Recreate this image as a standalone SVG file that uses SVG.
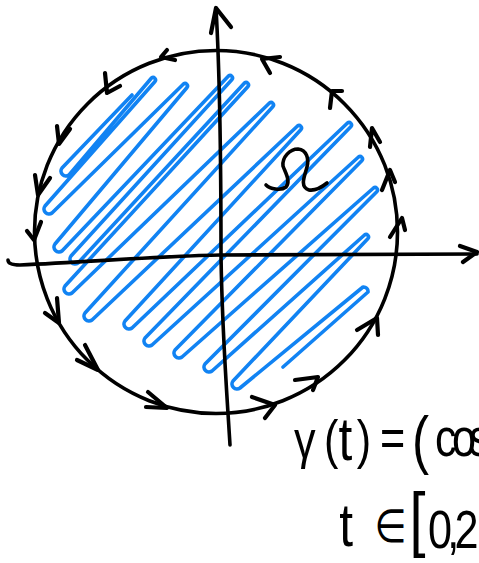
<svg xmlns="http://www.w3.org/2000/svg" width="479" height="563" viewBox="0 0 479 563">
<style>
.ink{fill:none;stroke:#000;stroke-width:3.6;stroke-linecap:round;stroke-linejoin:round}
.chev{fill:none;stroke:#000;stroke-width:4.2;stroke-linecap:round;stroke-linejoin:round}
.blue{fill:none;stroke:#1183f3;stroke-width:3.6;stroke-linecap:round;stroke-linejoin:round}
.hand{font-family:"Liberation Sans","DejaVu Sans",sans-serif;font-size:54px;fill:#000}
</style>
<rect width="479" height="563" fill="#fff"/>
<g id="region">
<path class="blue" d="M132,95 L62,168 A5,5 0 0 0 69,175 L151.5,78 A2.5,2.5 0 0 1 155,81.5 L45,206 A5,5 0 0 0 52,213 L183.5,84 A2.5,2.5 0 0 1 187,87.5 L55,244 A5,5 0 0 0 62,251 L228.5,76 A2.5,2.5 0 0 1 232,79.5 L71,256 A5,5 0 0 0 78,263 L244.5,83 A2.5,2.5 0 0 1 248,86.5 L65,286 A5,5 0 0 0 72,293 L269.5,103 A2.5,2.5 0 0 1 273,106.5 L85,313 A5,5 0 0 0 92,320 L297.5,126 A2.5,2.5 0 0 1 301,129.5 L125,321 A5,5 0 0 0 132,328 L347.5,123 A2.5,2.5 0 0 1 351,126.5 L145,338 A5,5 0 0 0 152,345 L358.5,157 A2.5,2.5 0 0 1 362,160.5 L175,350 A5,5 0 0 0 182,357 L373.5,188 A2.5,2.5 0 0 1 377,191.5 L205,364 A5,5 0 0 0 212,371 L364.5,235 A2.5,2.5 0 0 1 368,238.5 L233,381 A5,5 0 0 0 240,388 L363,287 A4.5,4.5 0 0 1 368,292 L283,367"/>
</g>
<g id="axes">
<path class="ink" d="M8,260 Q8,265 20,265 C90,262 160,256 220,255 L477,254"/>
<path class="chev" d="M460,246 L477,252 L463,262"/>
<path class="ink" d="M216,8 C219,60 221,150 221,255 C222,330 226,380 230,445"/>
<path class="chev" d="M211,33 L216,8 L231,27"/>
</g>
<g id="boundary">
<circle class="ink" cx="216" cy="232" r="181.5"/>
</g>
<g id="orientation-arrows" class="chev">
<path d="M167,50 L161,57 L175,60"/>
<path d="M105,73 L107,93 L120,86"/>
<path d="M57,126 L59,144 L70,129"/>
<path d="M35,175 L38,195 L50,178"/>
<path d="M27,231 L34,240 L41,222"/>
<path d="M57,298 L59,323 L45,313"/>
<path d="M85,345 L98,370 L77,360"/>
<path d="M148,392 L167,408 L146,407"/>
<path d="M252,397 L275,405 L265,418"/>
<path d="M295,380 L318,377 L313,390"/>
<path d="M357,330 L377,318 L378,335"/>
<path d="M390,237 L402,218 L405,230"/>
<path d="M382,190 L390,170 L395,182"/>
<path d="M370,147 L372,128 L380,142"/>
<path d="M330,108 L332,91 L342,91"/>
<path d="M270,73 L262,59 L280,57"/>
</g>
<g id="omega-label">
<path class="ink" d="M266,185 C270,189 281,191 286,187 C291,181 285,172 283,166 C282,157 290,149 298,149 C307,150 309,159 307,167 C305,175 299,187 309,190 C315,191 322,187 327,183"/>
</g>
<g id="formula" class="hand" transform="scale(0.8 1)">
<text x="367.5" y="458">γ</text>
<text x="405" y="458">(</text>
<text x="423" y="460" font-size="62">t</text>
<text x="446" y="458">)</text>
<text x="475" y="456">=</text>
<text x="515" y="462" font-size="64">(</text>
<text x="543.75 565 586.25" y="456">cos</text>
<text x="424" y="546" font-size="62">t</text>
<text x="468" y="542" font-size="46">∈</text>
<text x="512" y="543" font-size="72">[</text>
<text x="535 559 568" y="548">0,2</text>
</g>
</svg>
